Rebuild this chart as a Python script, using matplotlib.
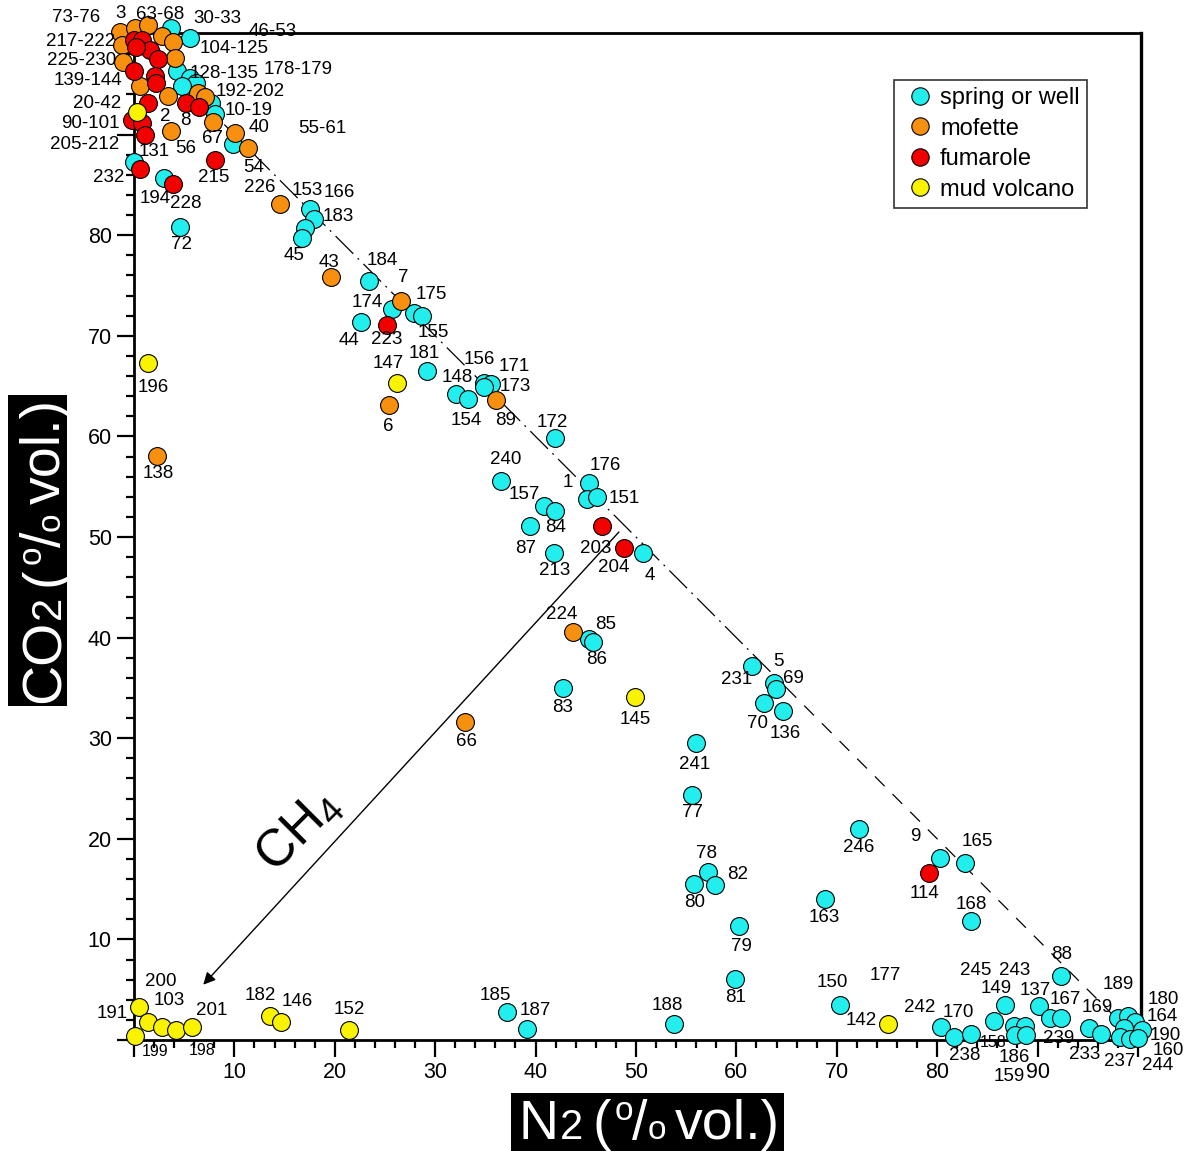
import matplotlib
matplotlib.use("Agg")
import matplotlib.pyplot as plt
import matplotlib.transforms as mtransforms
from matplotlib.patches import Rectangle
from matplotlib.lines import Line2D
from matplotlib.ticker import MultipleLocator

# ----- Configuration -----
FONT = "Liberation Sans"
OUT_FILE = "out.png"

plt.rcParams["font.family"] = [FONT, "DejaVu Sans"]
plt.rcParams["mathtext.fontset"] = "custom"
plt.rcParams["mathtext.rm"] = FONT
plt.rcParams["mathtext.it"] = FONT + ":italic"

# ----- Data (N2 %, CO2 %) -----
spring_n2 = [4.6, 17.5, 17.9, 17.0, 16.7, 23.4, 25.7, 27.9, 28.7, 22.6, 29.2, 32.1, 33.3,
             34.9, 35.6, 34.9, 41.9, 36.6, 40.8, 41.9, 39.4, 41.8, 45.3, 45.1, 46.1, 50.7,
             45.3, 45.7, 42.7, 56.0, 55.6, 61.6, 63.7, 63.9, 62.8, 64.6, 72.2, 80.3, 82.8,
             83.4, 68.8, 57.2, 55.8, 57.9, 60.3, 59.9, 70.3, 80.4, 81.7, 83.4, 85.7, 86.8,
             87.7, 88.7, 87.8, 88.8, 90.1, 91.2, 92.3, 92.3, 95.1, 96.3, 98.0, 99.0, 99.7,
             98.6, 100.4, 98.2, 99.2, 100.0, 37.2, 39.1, 53.8, 5.6, 3.7, 4.3, 5.6, 6.2, 4.8,
             7.7, 8.1, 9.9, 0.0, 3.0]
spring_co2 = [80.8, 82.6, 81.6, 80.7, 79.7, 75.5, 72.7, 72.3, 72.0, 71.4, 66.5, 64.2, 63.7,
              65.3, 65.2, 64.9, 59.8, 55.6, 53.1, 52.6, 51.1, 48.4, 55.4, 53.8, 54.0, 48.4,
              39.9, 39.6, 35.0, 29.5, 24.4, 37.2, 35.5, 34.9, 33.5, 32.7, 21.0, 18.1, 17.6,
              11.8, 14.0, 16.7, 15.5, 15.4, 11.3, 6.1, 3.5, 1.3, 0.3, 0.6, 1.9, 3.5,
              1.4, 1.4, 0.5, 0.5, 3.4, 2.2, 2.2, 6.4, 1.2, 0.6, 2.2, 2.4, 1.8,
              1.2, 1.0, 0.3, 0.1, 0.2, 2.8, 1.1, 1.6, 99.6, 100.6, 96.3, 95.6, 95.1, 94.8,
              93.1, 92.1, 89.1, 87.3, 85.7]

mofette_n2 = [26.6, 19.6, 25.4, 36.1, 43.7, 33.0, 14.5, 2.3, 10.1, 11.4, 7.9, 3.7, 3.4, 6.4,
              7.1, -1.4, 0.1, 2.8, 3.9, 4.1, -1.2, -1.1, 0.6, 1.4]
mofette_co2 = [73.5, 75.8, 63.1, 63.6, 40.6, 31.6, 83.1, 58.1, 90.2, 88.7, 91.3, 90.4, 93.8,
               94.1, 93.7, 100.2, 100.6, 99.8, 99.2, 97.6, 98.9, 97.2, 94.8, 100.9]

fumarole_n2 = [25.2, 46.6, 48.8, 79.2, 0.0, 0.8, 1.6, 0.2, 2.4, 0.0, 2.1, 2.2, 1.4, -0.2, 0.8,
               1.1, 0.6, 3.9, 5.2, 6.5, 8.1]
fumarole_co2 = [71.1, 51.1, 48.9, 16.6, 99.4, 99.4, 98.4, 98.7, 97.5, 96.3, 95.8, 95.1, 93.1,
                91.5, 91.2, 90.0, 86.6, 85.1, 93.1, 92.7, 87.5]

mud_n2 = [0.3, 1.4, 26.2, 49.9, 75.1, 0.5, 0.1, 1.4, 2.8, 4.2, 5.8, 13.5, 14.6, 21.4]
mud_co2 = [92.3, 67.3, 65.3, 34.1, 1.6, 3.3, 0.4, 1.8, 1.3, 1.0, 1.3, 2.4, 1.8, 1.0]

groups = ["spring or well", "mofette", "fumarole", "mud volcano"]
group_colors = ["#22EEEE", "#F7900F", "#F20000", "#F9F200"]

# sample numbers and where they are written (N2, CO2)
label_text = ["73-76", "3", "63-68", "30-33", "46-53", "217-222", "104-125", "225-230",
              "128-135", "178-179", "139-144", "192-202", "20-42", "10-19", "2", "8", "90-101",
              "67", "40", "55-61", "205-212", "131", "56", "54", "232", "215", "226", "153",
              "166", "194", "228", "183", "72", "45", "43", "184", "7", "174", "175", "44",
              "223", "155", "147", "181", "156", "171", "148", "173", "6", "154", "89", "172",
              "196", "138", "240", "176", "1", "157", "151", "84", "87", "203", "213", "204",
              "4", "224", "85", "86", "83", "145", "66", "5", "231", "69", "70", "136", "241",
              "77", "246", "9", "165", "114", "78", "82", "80", "163", "168", "79", "88", "81",
              "245", "243", "177", "150", "189", "149", "137", "180", "167", "169", "242",
              "170", "142", "164", "188", "185", "187", "190", "239", "160", "238", "233",
              "186", "237", "244", "159", "200", "103", "191", "201", "182", "146", "152"]
label_x = [-5.8, -1.3, 2.6, 8.3, 13.8, -5.3, 10.0, -5.2, 9.0, 16.3, -4.6, 11.6, -3.7, 11.4,
           3.1, 5.1, -4.3, 7.8, 12.5, 18.8, -4.9, 2.0, 5.2, 11.9, -2.5, 7.9, 12.5, 17.3,
           20.5, 2.1, 5.2, 20.3, 4.7, 15.9, 19.4, 24.7, 26.8, 23.2, 29.6, 21.4,
           25.2, 29.8, 25.3, 28.9, 34.4, 37.9, 32.2, 38.0, 25.3, 33.1, 37.0, 41.7,
           1.9, 2.4, 37.0, 46.9, 43.2, 38.9, 48.8, 42.0, 39.0, 46.0, 41.9, 47.8,
           51.4, 42.6, 47.0, 46.1, 42.7, 49.9, 33.1, 64.2, 60.0, 65.7, 62.1, 64.9, 55.8,
           55.6, 72.2, 77.8, 84.0, 78.7, 57.0, 60.1, 55.8, 68.8, 83.4, 60.5, 92.4, 59.9,
           83.8, 87.7, 74.8, 69.6, 98.0, 85.9, 89.8, 102.5, 92.8, 95.9, 78.3,
           82.1, 72.4, 102.4, 53.1, 36.0, 40.0, 102.7, 92.1, 103.0, 82.7, 94.7,
           87.7, 98.2, 102.0, 87.2, 2.7, 3.5, -2.2, 7.7, 12.6, 16.3, 21.4]
label_y = [101.6, 102.0, 101.9, 101.5, 100.3, 99.3, 98.6, 97.4, 96.1, 96.5, 95.4, 94.3, 93.1,
           92.4, 91.8, 91.4, 91.1, 89.6, 90.7, 90.6, 89.0, 88.3, 88.6, 86.7, 85.7, 85.7,
           84.7, 84.4, 84.2, 83.7, 83.2, 81.9, 79.1, 78.0, 77.3, 77.5, 75.8, 73.3, 74.1,
           69.5, 69.6, 70.3, 67.3, 68.2, 67.6, 67.0, 65.9, 65.0, 61.0, 61.6, 61.6, 61.4,
           64.9, 56.3, 57.7, 57.1, 55.4, 54.2, 53.8, 50.9, 48.9, 48.9, 46.7, 47.0,
           46.2, 42.3, 41.3, 37.8, 33.1, 31.9, 29.7, 37.6, 35.8, 35.9, 31.5, 30.5, 27.4,
           22.6, 19.1, 20.2, 19.7, 14.6, 18.5, 16.5, 13.7, 12.2, 13.5, 9.3, 8.5, 4.2,
           6.9, 6.9, 6.4, 5.7, 5.5, 5.1, 4.9, 4.0, 4.0, 3.2, 3.2,
           2.7, 1.9, 2.3, 3.4, 4.4, 2.9, 0.5, 0.2, -1.0, -1.5, -1.4,
           -1.7, -2.1, -2.5, -3.6, 5.8, 3.9, 2.6, 2.9, 4.4, 3.8, 3.0]
small_label_text = ["199", "198", "158"]
small_label_x = [2.1, 6.8, 85.6]
small_label_y = [-1.1, -1.0, -0.2]

# N2 + CO2 = 100 reference line, and the CH4 dilution arrow
mix_dashdot_n2 = [9.0, 65.0]
mix_dashed_n2 = [65.0, 98.0]
ch4_arrow_start = (48.3, 50.5)
ch4_arrow_end = (6.9, 5.5)
ch4_label_pos = (16.4, 20.8)

x_ticks = [0, 10, 20, 30, 40, 50, 60, 70, 80, 90, 100]
x_tick_labels = ["", "10", "20", "30", "40", "50", "60", "70", "80", "90", ""]
y_ticks = [0, 10, 20, 30, 40, 50, 60, 70, 80, 90, 100]
y_tick_labels = ["", "10", "20", "30", "40", "50", "60", "70", "80", "", ""]

# axis titles: (text, font size, raise in points, gap after in points)
x_title_parts = [("N", 40, 0, 1.0), ("2", 30, 0, 6.5), ("(", 40, 0, 2.5), ("o", 24, 14, -1),
                 ("/", 40, 0, 0.5), ("o", 24, 0, 6.5), ("vol.)", 40, 0, 0)]
y_title_parts = [("CO", 40, 0, 1.0), ("2", 30, 0, 6.5), ("(", 40, 0, 2.5), ("o", 24, 14, -1),
                 ("/", 40, 0, 0.5), ("o", 24, 0, 6.5), ("vol.)", 40, 0, 0)]


def rich_title(fig, parts, x0, y0, vertical=False, pads=(6, 3, 3, 3), to_bottom=False):
    """
    Write a title from pieces of different size on a common baseline, white on a black box.
    :param pads: left, right, top, bottom padding in pixels (text direction)
    """
    renderer = fig.canvas.get_renderer()
    px_per_pt = fig.dpi / 72.0
    offset = 0.0
    boxes = []
    for text, size, rise, gap in parts:
        if vertical:
            shift = mtransforms.Affine2D().translate(-rise * px_per_pt, offset)
        else:
            shift = mtransforms.Affine2D().translate(offset, rise * px_per_pt)
        t = fig.text(x0, y0, text, fontsize=size, color="white", ha="left", va="baseline",
                     rotation=90 if vertical else 0, rotation_mode="anchor",
                     transform=fig.transFigure + shift, zorder=5)
        bb = t.get_window_extent(renderer)
        boxes.append(bb)
        offset += (bb.height if vertical else bb.width) + gap * px_per_pt

    union = mtransforms.Bbox.union(boxes)
    left, right, top, bottom = pads
    if vertical:
        x_lo, x_hi = union.x0 - top, union.x1 + bottom
        y_lo, y_hi = union.y0 - left, union.y1 + right
    else:
        x_lo, x_hi = union.x0 - left, union.x1 + right
        y_lo = 0 if to_bottom else union.y0 - bottom
        y_hi = union.y1 + top
    rect = Rectangle((x_lo, y_lo), x_hi - x_lo, y_hi - y_lo, facecolor="black",
                     edgecolor="none", transform=mtransforms.IdentityTransform(), zorder=4)
    fig.add_artist(rect)


def main():
    fig = plt.figure(figsize=(11.92, 11.51), dpi=100)
    ax = fig.add_axes([0.1124, 0.0964, 0.8448, 0.8749])
    ax.set_xlim(0, 100.3)
    ax.set_ylim(0, 100.1)

    # mixing line N2 + CO2 = 100
    xs = mix_dashdot_n2
    ax.plot(xs, [100 - v for v in xs], color="black", lw=0.9, dashes=(20, 5, 1.5, 5), zorder=1)
    xs = mix_dashed_n2
    ax.plot(xs, [100 - v for v in xs], color="black", lw=0.9, dashes=(11, 9), zorder=1)

    # CH4 arrow
    ax.annotate("", xy=ch4_arrow_end, xytext=ch4_arrow_start,
                arrowprops=dict(arrowstyle="-|>", color="black", lw=1.0,
                                mutation_scale=18, shrinkA=0, shrinkB=0), zorder=1)
    ax.text(*ch4_label_pos, r"CH$_\mathregular{4}$", fontsize=37, rotation=45,
            ha="center", va="center", zorder=1)

    series = [(spring_n2, spring_co2), (mofette_n2, mofette_co2),
              (fumarole_n2, fumarole_co2), (mud_n2, mud_co2)]
    for i, (xv, yv) in enumerate(series):
        ax.scatter(xv, yv, s=165, c=group_colors[i], edgecolors="black", linewidths=0.8,
                   clip_on=False, zorder=3 + i)

    for t, x, y in zip(label_text, label_x, label_y):
        ax.text(x, y, t, fontsize=13.5, ha="center", va="center", clip_on=False, zorder=8)
    for t, x, y in zip(small_label_text, small_label_x, small_label_y):
        ax.text(x, y, t, fontsize=11.5, ha="center", va="center", clip_on=False, zorder=8)

    # axes frame and ticks
    for side in ["left", "bottom", "top", "right"]:
        ax.spines[side].set_linewidth(2.0)
        ax.spines[side].set_zorder(2)
    ax.spines["right"].set_linewidth(2.4)
    ax.set_xticks(x_ticks)
    ax.set_xticklabels(x_tick_labels)
    ax.set_yticks(y_ticks)
    ax.set_yticklabels(y_tick_labels)
    ax.xaxis.set_minor_locator(MultipleLocator(2))
    ax.yaxis.set_minor_locator(MultipleLocator(2))
    ax.tick_params(which="major", direction="out", length=12, width=1.6,
                   labelsize=15.5, pad=4, top=False, right=False)
    ax.tick_params(which="minor", direction="out", length=5.5, width=1.6,
                   top=False, right=False)

    handles = [Line2D([], [], marker="o", ls="none", markersize=12.5, markerfacecolor=c,
                      markeredgecolor="black", markeredgewidth=0.8) for c in group_colors]
    leg = ax.legend(handles, groups, loc="upper left", bbox_to_anchor=(0.75, 0.9305),
                    bbox_transform=fig.transFigure, fontsize=17, frameon=True,
                    fancybox=False, framealpha=1, borderpad=0.3, handlelength=1.6,
                    handletextpad=0.05, labelspacing=0.36, borderaxespad=0)
    leg.get_frame().set_edgecolor("#333333")
    leg.get_frame().set_linewidth(1.2)
    leg.set_zorder(10)

    fig.canvas.draw()
    rich_title(fig, x_title_parts, 0.4352, 0.0104, pads=(8, 4, 3, 0), to_bottom=True)
    rich_title(fig, y_title_parts, 0.0503, 0.389, vertical=True, pads=(3, 4, 9, -5))

    fig.savefig(OUT_FILE, dpi=100)
    plt.close(fig)


if __name__ == "__main__":
    main()
